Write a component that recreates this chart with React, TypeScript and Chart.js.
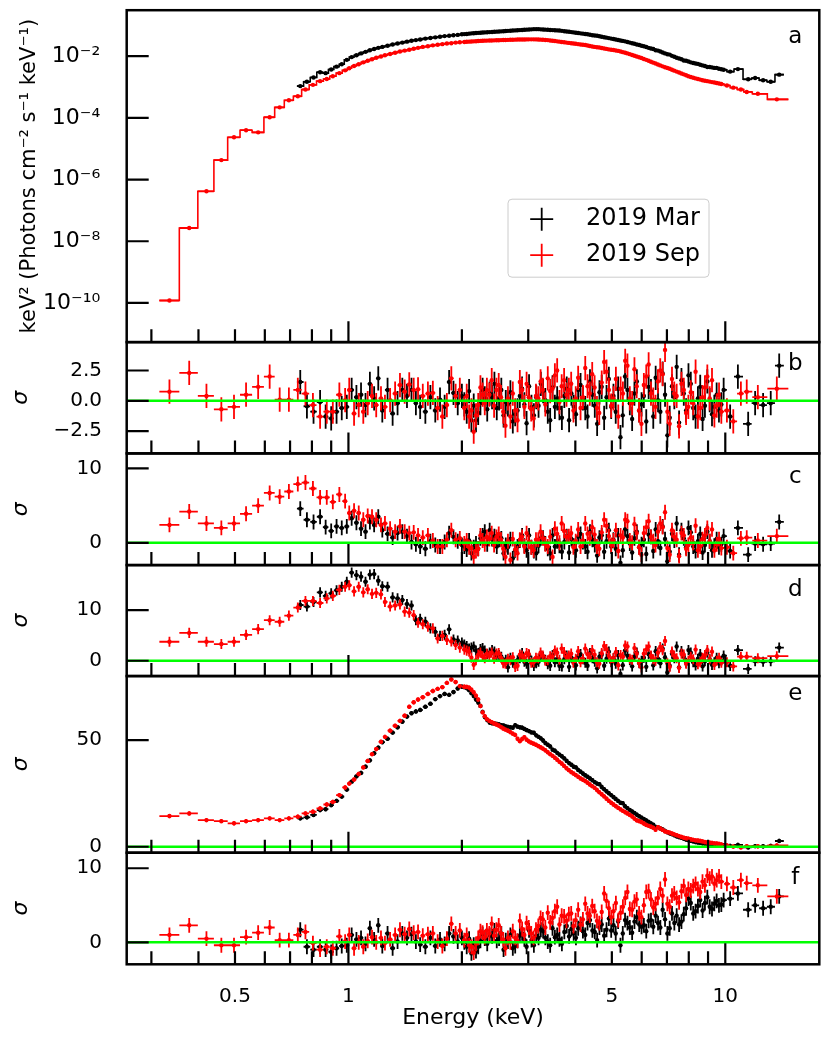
import { useEffect, useRef } from "react";
import { Chart, registerables } from "chart.js";

Chart.register(...registerables);

const FONT = "'DejaVu Sans', sans-serif";
Chart.defaults.font.family = FONT;
Chart.defaults.color = "#000";

// ---- channel energies (keV) ----
const marEnergy = [
  0.745, 0.776, 0.808, 0.841, 0.87, 0.9, 0.93, 0.96, 0.99, 1.02,
  1.05, 1.08, 1.11, 1.14, 1.17, 1.2, 1.23, 1.27, 1.31, 1.35,
  1.39, 1.43, 1.47, 1.51, 1.55, 1.6, 1.65, 1.7, 1.75, 1.8,
  1.85, 1.9, 1.95,
  2.0, 2.03, 2.06, 2.09, 2.12, 2.15, 2.18, 2.21, 2.24, 2.27,
  2.3, 2.335, 2.37, 2.405, 2.44, 2.475, 2.51, 2.545, 2.58, 2.615,
  2.65, 2.69, 2.73, 2.77, 2.81, 2.85, 2.89, 2.93, 2.97, 3.015,
  3.06, 3.105, 3.15, 3.195, 3.24, 3.285, 3.33, 3.38, 3.43, 3.48,
  3.53, 3.58, 3.63, 3.685, 3.74, 3.795, 3.85, 3.905, 3.96, 4.015,
  4.07, 4.13, 4.19, 4.25, 4.31, 4.375, 4.44, 4.505, 4.57, 4.635,
  4.7, 4.77, 4.84, 4.91, 4.98, 5.05, 5.12, 5.195, 5.27, 5.345,
  5.42, 5.5, 5.58, 5.66, 5.74, 5.825, 5.91, 5.995, 6.08, 6.17,
  6.26, 6.35, 6.44, 6.535, 6.63, 6.725, 6.82, 6.92, 7.02, 7.12,
  7.22, 7.325, 7.43, 7.54, 7.65, 7.76, 7.87, 7.985, 8.1, 8.22,
  8.34, 8.46, 8.58, 8.705, 8.83, 8.96, 9.09, 9.22, 9.35, 9.485,
  9.62, 9.76, 9.9,
  10.3, 10.8, 11.5, 12.0, 12.6, 13.2, 13.9,
];

const sepEnergy = [
  0.335, 0.378, 0.42, 0.46, 0.497, 0.535, 0.576, 0.618, 0.657, 0.695, 0.734,
  0.769, 0.805, 0.841, 0.876, 0.909, 0.946, 0.98, 1.005, 1.035, 1.065,
  1.095, 1.125, 1.155, 1.185, 1.22, 1.25, 1.29, 1.33, 1.37, 1.41,
  1.45, 1.49, 1.53, 1.575, 1.625, 1.675, 1.725, 1.775, 1.825, 1.875,
  1.925, 1.975,
  2.03, 2.06, 2.09, 2.12, 2.15, 2.18, 2.21, 2.24, 2.27, 2.3,
  2.33, 2.365, 2.4, 2.435, 2.47, 2.505, 2.54, 2.575, 2.61, 2.65,
  2.69, 2.73, 2.77, 2.81, 2.85, 2.89, 2.93, 2.97, 3.01, 3.055,
  3.1, 3.145, 3.19, 3.235, 3.28, 3.33, 3.38, 3.43, 3.48, 3.53,
  3.58, 3.63, 3.68, 3.735, 3.79, 3.845, 3.9, 3.955, 4.01, 4.07,
  4.13, 4.19, 4.25, 4.31, 4.37, 4.435, 4.5, 4.565, 4.63, 4.7,
  4.77, 4.84, 4.91, 4.98, 5.05, 5.125, 5.2, 5.275, 5.35, 5.425,
  5.5, 5.58, 5.66, 5.74, 5.82, 5.905, 5.99, 6.08, 6.17, 6.26,
  6.35, 6.44, 6.53, 6.625, 6.72, 6.82, 6.92, 7.02, 7.12, 7.22,
  7.32, 7.43, 7.54, 7.65, 7.76, 7.87, 7.98, 8.1, 8.22, 8.34,
  8.46, 8.58, 8.7, 8.83, 8.96, 9.09, 9.22, 9.355, 9.49, 9.625, 9.76,
  10.1, 10.5, 11.0, 11.4, 12.2, 13.7,
];

// ---- panel a: log10 of E^2 F(E) ----
const marSpecLog = [
  -2.97, -2.83, -2.69, -2.52, -2.55, -2.43, -2.34, -2.26, -2.12, -2.03,
  -1.97, -1.91, -1.86, -1.81, -1.77, -1.73, -1.7, -1.66, -1.62, -1.59,
  -1.56, -1.53, -1.5, -1.48, -1.46, -1.43, -1.41, -1.39, -1.37, -1.35,
  -1.34, -1.32, -1.31,
  -1.29, -1.285, -1.28, -1.27, -1.26, -1.255, -1.25, -1.245, -1.24, -1.235,
  -1.23, -1.225, -1.22, -1.215, -1.21, -1.205, -1.2, -1.195, -1.19, -1.185,
  -1.18, -1.175, -1.17, -1.165, -1.16, -1.155, -1.15, -1.145, -1.14, -1.135,
  -1.13, -1.125, -1.125, -1.125, -1.13, -1.135, -1.14, -1.145, -1.15, -1.155,
  -1.16, -1.165, -1.17, -1.18, -1.19, -1.2, -1.21, -1.22, -1.23, -1.24,
  -1.25, -1.26, -1.27, -1.28, -1.29, -1.305, -1.32, -1.33, -1.34, -1.355,
  -1.37, -1.385, -1.4, -1.415, -1.43, -1.445, -1.46, -1.475, -1.49, -1.505,
  -1.52, -1.54, -1.56, -1.58, -1.6, -1.62, -1.64, -1.66, -1.68, -1.705,
  -1.73, -1.75, -1.77, -1.81, -1.82, -1.85, -1.88, -1.91, -1.94, -1.95,
  -1.99, -2.02, -2.05, -2.075, -2.1, -2.14, -2.15, -2.175, -2.2, -2.22,
  -2.24, -2.25, -2.28, -2.3, -2.32, -2.35, -2.35, -2.365, -2.38, -2.38,
  -2.41, -2.425, -2.44,
  -2.5, -2.42, -2.75, -2.71, -2.78, -2.83, -2.6,
];

const sepSpecLog = [
  -9.92, -7.57, -6.38, -5.37, -4.63, -4.4, -4.47, -3.98, -3.66, -3.43, -3.3,
  -3.08, -2.93, -2.81, -2.74, -2.65, -2.55, -2.46, -2.39, -2.32, -2.26,
  -2.2, -2.15, -2.1, -2.05, -2.01, -1.97, -1.93, -1.89, -1.85, -1.82,
  -1.79, -1.76, -1.73, -1.7, -1.68, -1.65, -1.63, -1.61, -1.59, -1.58,
  -1.56, -1.55,
  -1.54, -1.535, -1.53, -1.525, -1.52, -1.515, -1.51, -1.505, -1.5, -1.497,
  -1.495, -1.492, -1.49, -1.487, -1.485, -1.482, -1.48, -1.477, -1.475, -1.472,
  -1.47, -1.467, -1.465, -1.462, -1.46, -1.46, -1.46, -1.457, -1.455, -1.455,
  -1.455, -1.457, -1.46, -1.465, -1.47, -1.475, -1.48, -1.49, -1.5, -1.51,
  -1.52, -1.53, -1.54, -1.55, -1.56, -1.57, -1.58, -1.59, -1.6, -1.61,
  -1.62, -1.63, -1.64, -1.655, -1.67, -1.685, -1.7, -1.71, -1.72, -1.735,
  -1.75, -1.765, -1.78, -1.79, -1.8, -1.815, -1.83, -1.85, -1.87, -1.89,
  -1.91, -1.935, -1.96, -1.985, -2.01, -2.035, -2.06, -2.09, -2.12, -2.15,
  -2.18, -2.21, -2.24, -2.27, -2.3, -2.33, -2.36, -2.385, -2.41, -2.44,
  -2.47, -2.5, -2.53, -2.56, -2.59, -2.62, -2.65, -2.675, -2.7, -2.72,
  -2.74, -2.76, -2.78, -2.795, -2.81, -2.825, -2.84, -2.855, -2.87, -2.885, -2.9,
  -2.95, -3.02, -3.08, -3.16, -3.22, -3.4,
];

// ---- residuals (sigma), panels b-f ----
const marResB = [
  1.55, -0.45, -0.9, -0.1, -1.3, -1.45, -0.9, -0.6, -0.5, 0.9,
  0.3, 0.5, -0.35, 1.4, 0.2, 1.85, -0.8, 0.9, -1.05, -0.2,
  0.9, 0.4, 0.9, -0.2, -0.5, -0.9, 0.3, -0.8, 0.1, -0.5,
  1.55, 0.65, -0.2,
  0.4, -0.3, -0.9, 0.8, -1.6, -0.4, -1.6, -1.0, -0.2, 0.9,
  0.2, -0.7, 0.6, 0.3, 1.4, -0.6, 0.2, 0.9, -1.2, -0.1,
  -0.3, 0.7, -1.7, -1.1, -0.8, 0.4, 1.0, -0.3, -1.85, 1.2,
  -0.5, -1.2, 0.3, -0.4, 1.4, 0.8, 0.05, -0.9, -1.6, 1.1,
  -0.5, 0.2, -0.6, -1.4, 0.4, 1.0, -1.6, 0.6, -0.5, -1.1,
  0.9, 1.3, 0.2, -0.6, -1.3, 1.6, 0.5, -0.4, -1.9, 0.7,
  1.15, -1.4, 0.3, 1.8, -0.5, 0.4, -0.9, 1.0, -3.0, -1.2,
  2.0, 0.9, -0.2, -1.5, 0.6, 1.6, -0.8, -0.3, 0.4, -1.7,
  1.15, 0.8, -1.3, 1.9, 0.05, -0.9, 2.25, 0.5, -2.85, -1.4,
  1.2, 0.3, 2.8, -1.8, 1.7, 0.6, -0.8, 2.1, 1.4, -0.6,
  -1.3, 0.2, 1.15, -1.5, -0.4, 1.6, 0.05, -1.1, -0.5, 0.5,
  -0.8, -0.3, 0.9,
  -1.3, 2.0, -1.9, -0.2, -0.35, -0.2, 2.9,
];
const marResC = [
  4.6, 3.1, 2.8, 3.5, 2.1, 1.6, 2.2, 2.0, 2.2, 3.3,
  2.7, 1.9, 1.5, 2.8, 2.4, 3.5, 1.7, 1.2, 0.7, 1.3,
  1.5, 0.9, 0.1, -0.2, -0.5, -0.8, 0.2, -0.3, -0.5, 0.1,
  1.3, 0.8, 0.2,
  -0.3, -0.5, -0.9, 0.3, -1.4, -0.6, -0.1, -0.8, 0.6, 1.0,
  1.5, -0.2, 1.7, 0.5, 0.9, -0.5, 0.4, 0.6, -1.4, -0.3,
  -0.6, 0.5, -2.1, -1.0, -0.5, 0.3, 1.0, -0.4, -1.0, 1.0,
  -0.6, -1.1, -1.4, -0.4, 0.6, 0.7, -0.1, -0.8, -1.4, 1.0,
  -0.5, 0.2, -0.4, -1.2, 0.1, 0.9, -1.3, 0.5, -0.4, -1.0,
  0.8, 1.2, 0.1, -0.5, -1.2, 1.5, 0.4, -0.3, -1.7, 0.7,
  1.0, -1.2, 0.2, 1.7, -0.5, 0.4, -0.8, 1.0, -2.7, -1.0,
  1.8, 0.9, -0.1, -1.3, 0.6, 1.5, -0.6, -0.2, 0.4, -1.5,
  1.1, 0.8, -1.1, 1.8, 0.2, -0.7, 2.2, 0.5, -2.5, -1.2,
  1.2, 0.3, 2.6, -1.6, 1.7, 0.6, -0.6, 2.0, 1.4, -0.5,
  -1.1, 0.2, 1.2, -1.3, -0.3, 1.5, 0.2, -1.0, -0.4, 0.5,
  -0.6, -0.2, 0.9,
  -1.1, 2.0, -1.6, -0.1, -0.2, -0.1, 2.8,
];
const marResD = [
  11.0, 10.7, 11.6, 13.5, 12.8, 13.3, 13.9, 14.6, 15.6, 17.4,
  16.9, 16.6, 15.6, 17.0, 17.1, 15.8, 14.7, 14.6, 12.5, 12.3,
  12.0, 11.2, 10.9, 8.0, 8.3, 7.7, 6.4, 5.7, 4.9, 5.1,
  6.2, 4.2, 4.0,
  3.6, 3.2, 2.9, 2.4, 2.6, 2.8, 2.0, 1.5, 2.3, 2.5,
  2.0, 1.3, 1.6, 2.1, 1.8, 1.0, 1.1, 0.8, -0.3, 0.2,
  -1.3, 0.6, -0.4, -0.7, 0.1, 0.5, 1.5, -0.2, -0.6, 1.1,
  0.0, -1.0, -0.5, -0.2, 1.0, 0.8, 0.2, -0.7, -1.0, 1.1,
  -0.3, 0.3, -1.0, -1.1, 0.3, 1.0, -1.2, 0.6, -0.3, -0.9,
  0.9, 1.3, 0.3, -0.4, -1.0, 1.5, 0.5, -0.2, -1.5, 0.8,
  1.2, -1.0, 0.4, 1.8, -0.3, 0.5, -0.6, 1.1, -2.6, -0.9,
  2.0, 1.0, 0.1, -1.1, 0.8, 1.6, -0.5, 0.0, 0.6, -1.2,
  1.3, 0.9, -0.9, 1.9, 0.4, -0.5, 2.4, 0.7, -2.3, -1.0,
  1.4, 0.5, 2.8, -1.3, 1.9, 0.8, -0.4, 2.1, 1.6, -0.3,
  -0.9, 0.4, 1.3, -1.1, -0.1, 1.6, 0.3, -0.8, -0.3, 0.6,
  -0.5, 0.0, 1.0,
  -1.0, 2.1, -1.6, -0.1, -0.2, -0.1, 2.6,
];
const marResE = [
  13.3, 13.8, 14.9, 17.2, 17.6, 19.5, 21.5, 23.5, 26.8, 30.5,
  33.0, 34.6, 37.5, 40.5, 43.8, 46.4, 49.0, 50.6, 53.5, 56.0,
  58.6, 61.0, 62.6, 63.4, 64.1, 65.6, 67.0, 69.2, 70.6, 71.6,
  71.2, 72.5, 74.2,
  75.0, 74.8, 74.4, 73.4, 72.0, 70.6, 69.0, 67.6, 66.0, 63.2,
  60.8, 59.4, 58.2, 57.9, 57.8, 57.6, 57.3, 57.0, 56.8, 56.4,
  56.2, 56.0, 55.8, 57.0, 56.3, 56.0, 55.8, 55.2, 54.7, 54.2,
  53.6, 53.4, 52.2, 51.5, 50.8, 49.8, 48.6, 47.8, 47.0, 45.5,
  45.0, 44.0, 43.2, 42.4, 41.4, 40.2, 39.2, 38.4, 37.5, 37.2,
  36.0, 35.2, 34.3, 33.5, 32.8, 32.0, 31.2, 30.3, 29.6, 29.3,
  28.0, 27.0, 26.0, 25.1, 24.2, 23.3, 22.4, 21.5, 20.6, 20.4,
  19.0, 18.1, 17.2, 16.5, 15.8, 15.0, 14.3, 13.6, 13.0, 12.3,
  11.6, 10.9, 10.3, 9.3, 9.2, 8.6, 8.1, 7.4, 6.8, 6.3,
  5.9, 5.4, 4.9, 4.5, 4.2, 3.8, 3.4, 3.1, 2.8, 2.5,
  2.2, 2.0, 1.8, 1.6, 1.5, 1.3, 1.2, 1.1, 1.0, 0.9,
  0.8, 0.75, 0.7,
  0.4, 0.9, -0.3, 0.3, 0.2, 0.4, 2.7,
];
const marResF = [
  1.7, -0.6, -1.0, -0.6, -1.0, -1.3, -0.8, -0.5, -0.4, 1.0,
  0.4, 0.6, -0.2, 1.9, 0.4, 2.3, -0.5, 1.2, -0.8, 0.1,
  1.2, 0.6, 1.1, 0.1, -0.3, -0.6, 0.6, -0.5, 0.4, -0.2,
  1.2, 0.8, 0.1,
  0.6, 0.0, -0.6, 0.5, -1.5, -0.3, -1.2, -0.6, 0.2, 1.1,
  0.5, -0.2, 1.0, 0.8, 1.6, 0.2, 0.5, 1.2, -1.0, 0.3,
  0.1, 1.0, -0.8, -0.5, 0.2, 0.9, 1.2, 0.4, -0.6, 1.6,
  0.3, -0.4, 0.9, 0.6, 1.7, 1.5, 0.6, 0.1, -0.4, 1.9,
  0.7, 1.0, 0.4, -0.2, 1.4, 2.2, 0.8, 1.8, 1.2, 0.6,
  1.9, 2.5, 1.5, 1.0, 2.6, 3.0, 1.6, 1.4, 0.3, 2.0,
  2.4, 0.9, 1.7, 3.2, 1.6, 2.3, 1.2, 2.8, -0.4, 1.2,
  3.0, 2.6, 2.0, 1.3, 2.8, 3.4, 2.4, 2.1, 2.3, 1.5,
  2.9, 3.0, 2.1, 3.6, 2.6, 2.0, 4.4, 3.1, 1.2, 1.9,
  3.9, 2.6, 3.6, 2.4, 2.8, 3.8, 4.6, 5.9, 5.3, 3.9,
  4.2, 4.9, 5.7, 4.3, 5.3, 6.1, 4.8, 4.5, 5.2, 5.6,
  5.0, 5.1, 5.7,
  5.9, 6.6, 4.4, 5.0, 4.6, 4.8, 6.2,
];

const sepResB = [
  0.75, 2.3, 0.4, -0.7, -0.5, 0.5, 1.15, 2.0, 0.1, 0.1, 0.9,
  0.6, -0.35, -1.3, -0.9, -0.9, 0.5, 0.05, 0.9, -1.05, -0.35,
  -0.9, -0.2, 0.4, -0.35, 0.2, -0.5, 0.05, 0.6, 1.3, 0.75,
  1.35, 0.9, 0.95, 0.4, 0.6, 0.65, -0.6, -1.3, -0.35, 1.85,
  0.4, 0.9,
  -0.6, 0.4, -1.3, -0.8, -2.55, -1.2, -0.35, 1.1, 0.5, -0.2,
  0.9, 0.5, 1.7, -0.4, 0.9, 1.3, 0.3, -0.9, -2.05, 0.2,
  -1.3, 0.6, -0.8, -1.6, 1.55, 0.9, -0.5, 1.4, 0.3, -0.7,
  -1.45, 0.4, 0.2, 1.6, 0.9, -0.3, 1.85, 0.8, 1.0, 2.1,
  2.5, -0.1, 1.2, 1.7, 0.5, 0.9, 1.4, -0.8, 0.2, 1.9,
  -0.6, 0.3, 2.7, 1.2, 0.6, 2.2, 1.1, -0.6, -1.0, 1.5,
  3.2, 2.4, 0.9, -0.4, 0.2, 1.8, -1.3, 1.0, 0.6, 3.3,
  2.9, 0.2, -0.2, 2.6, 1.2, -0.8, -1.9, 1.3, 2.0, 3.0,
  0.6, 0.1, -0.5, 1.6, 2.5, 2.2, 4.2, -0.9, -1.9, 1.8,
  0.6, 0.4, -2.1, 1.4, 0.9, -1.0, -0.5, 0.7, -0.2, 2.4,
  -1.3, -0.6, 0.3, 1.1, 2.0, 0.2, 1.7, -1.2, -0.4, 0.5, -0.9,
  -0.8, -1.7, 0.6, 0.75, 0.3, 1.0,
];
const sepResC = [
  2.4, 4.2, 2.6, 2.0, 2.6, 3.9, 5.0, 6.7, 6.2, 6.9, 7.9,
  8.1, 7.3, 6.1, 6.1, 5.5, 6.5, 5.6, 4.0, 4.3, 4.0,
  3.1, 3.6, 3.5, 3.1, 2.4, 2.6, 1.9, 1.5, 2.2, 1.5,
  1.3, 1.4, 1.0, 0.7, 1.0, 0.3, -0.5, -0.5, 0.4, 1.7,
  0.4, 0.6,
  -0.1, 0.3, -0.6, -0.7, -1.9, -1.1, -0.8, 1.0, 0.3, -0.2,
  0.8, 0.5, 1.3, -0.3, 0.8, 1.2, 0.4, -0.8, -1.9, 0.2,
  -2.3, 0.5, -0.9, -1.4, 0.4, 0.8, -0.5, 1.3, 0.1, -0.6,
  -1.0, 0.4, 0.4, 1.5, 0.6, -0.2, -0.5, 0.8, -1.9, 1.9,
  1.2, 0.0, 2.6, 1.6, 0.8, 0.9, 1.3, -0.6, 0.2, 1.8,
  -0.5, 0.3, 2.6, 1.2, 0.6, 2.1, 1.1, -0.5, -0.8, 1.4,
  3.1, 2.3, 0.9, -0.3, 0.3, 1.7, -1.1, 1.0, 0.7, 3.1,
  2.9, 0.3, 0.0, 2.5, 1.3, -0.6, -1.6, 1.3, 2.1, 2.9,
  0.8, 0.2, -0.3, 1.5, 2.6, 2.1, 4.1, -0.7, -1.6, 1.7,
  0.8, 0.4, -1.8, 1.3, 1.0, -0.8, -0.3, 0.7, 0.0, 2.3,
  -1.0, -0.5, 0.5, 1.0, 2.0, 0.2, 1.8, -1.0, -0.2, 0.5, -0.7,
  -0.6, -1.4, 0.6, 0.7, 0.3, 0.9,
];
const sepResD = [
  3.75, 5.5, 3.75, 3.3, 3.75, 5.1, 6.25, 8.0, 7.7, 8.9, 10.5,
  11.8, 11.8, 11.4, 12.3, 12.8, 14.0, 14.6, 14.9, 13.7, 14.6,
  13.5, 14.1, 13.2, 13.4, 13.1, 11.6, 10.7, 10.9, 11.1, 9.7,
  9.5, 9.0, 7.5, 7.2, 6.7, 6.4, 4.4, 4.9, 4.1, 3.8,
  3.1, 2.6,
  2.2, 2.0, 1.8, 0.6, -0.8, 0.1, 1.2, 1.6, 0.9, 0.5,
  1.4, 1.0, 1.6, 0.4, 1.4, 1.5, 0.6, -0.5, -0.6, 0.4,
  0.1, 0.7, -1.2, -1.0, 1.2, 1.0, 0.5, 1.5, 1.3, -0.4,
  -0.3, 0.6, 0.5, 1.6, 1.0, 0.0, 0.1, 0.9, 0.8, 2.0,
  1.6, 0.2, 2.4, 1.7, 0.7, 1.0, 1.4, -0.4, 0.4, 1.9,
  -0.3, 0.4, 2.4, 1.3, 0.7, 2.1, 1.2, -0.3, -0.6, 1.5,
  2.9, 2.3, 1.0, -0.1, 0.5, 1.7, -0.9, 1.1, 0.8, 3.0,
  2.8, 0.4, 0.2, 2.5, 1.4, -0.4, -1.3, 1.4, 2.2, 2.8,
  1.0, 0.3, 0.0, 1.6, 2.7, 2.1, 3.9, -0.5, -1.2, 1.8,
  1.0, 0.5, -1.4, 1.4, 1.2, -0.6, 0.0, 0.8, 0.3, 2.2,
  -0.7, -0.3, 0.6, 1.1, 2.1, 0.3, 1.8, -0.8, 0.0, 0.6, -0.4,
  -0.3, -1.1, 0.8, 0.8, 0.5, 0.9,
];
const sepResE = [
  14.4, 15.6, 12.5, 12.0, 11.0, 12.0, 12.5, 13.3, 12.5, 13.3, 14.1,
  15.6, 16.4, 18.0, 19.8, 21.0, 24.2, 27.8, 29.6, 31.5, 34.1,
  37.2, 40.2, 43.4, 45.8, 49.2, 51.5, 54.4, 56.7, 59.0, 61.4,
  65.6, 67.7, 69.0, 70.1, 71.6, 73.0, 74.0, 74.8, 76.8, 78.4,
  77.2, 75.3,
  75.0, 74.9, 74.6, 73.6, 72.4, 70.8, 69.0, 66.0, 63.0, 61.2,
  59.8, 59.0, 58.4, 57.8, 57.3, 56.8, 56.1, 55.4, 54.9, 54.4,
  53.7, 53.0, 52.4, 50.6, 49.5, 50.5, 51.4, 50.2, 49.4, 48.8,
  48.3, 47.8, 47.2, 46.6, 46.0, 45.2, 44.3, 43.4, 42.6, 41.7,
  40.8, 39.8, 39.0, 37.9, 36.8, 35.9, 35.0, 34.3, 33.6, 32.8,
  32.0, 31.4, 30.8, 30.0, 29.2, 28.4, 27.6, 26.6, 25.6, 24.6,
  23.6, 22.5, 21.5, 20.6, 19.8, 19.0, 18.2, 17.5, 16.8, 16.2,
  15.6, 14.9, 14.2, 13.2, 12.4, 12.0, 11.6, 10.9, 10.2, 9.8,
  9.4, 8.9, 8.0, 9.2, 8.6, 7.9, 7.2, 6.9, 6.6, 6.2,
  5.8, 5.4, 5.0, 4.6, 4.2, 4.0, 3.8, 3.5, 3.2, 3.0,
  2.9, 2.7, 2.5, 2.2, 2.0, 1.9, 1.8, 1.6, 1.5, 1.3, 1.1,
  0.6, 0.1, -0.3, 0.3, 0.2, 0.6,
];
const sepResF = [
  1.0, 2.3, 0.5, -0.4, -0.4, 0.7, 1.3, 2.0, 0.3, 0.3, 1.0,
  1.4, -0.1, -1.0, -0.6, -0.8, 0.8, 0.1, 1.0, -0.8, 0.0,
  -0.6, 0.2, 0.7, 0.0, 0.6, -0.1, 0.4, 1.0, 1.7, 1.1,
  1.8, 1.3, 1.4, 0.9, 1.1, 1.2, 0.1, -0.5, 0.5, 2.5,
  1.2, 1.6,
  0.3, 1.0, -0.4, -0.6, -1.4, -0.2, 0.6, 1.5, 1.3, 0.7,
  1.6, 1.2, 2.5, 0.9, 1.7, 2.3, 1.2, 0.4, -0.8, 0.6,
  0.0, 1.5, 0.6, 0.2, 2.9, 1.8, 1.0, 2.6, 2.0, 1.2,
  0.6, 1.7, 2.2, 3.3, 3.1, 2.0, 4.0, 2.7, 3.3, 4.2,
  4.8, 2.4, 3.6, 3.5, 2.9, 3.8, 3.9, 2.2, 3.0, 4.4,
  2.4, 3.1, 5.2, 3.9, 3.6, 4.9, 4.2, 2.9, 2.6, 4.1,
  6.6, 5.6, 4.6, 3.4, 4.2, 5.3, 3.0, 4.0, 4.8, 6.0,
  6.8, 4.5, 4.4, 5.5, 5.8, 3.9, 3.4, 5.0, 6.8, 6.9,
  5.8, 4.7, 5.2, 6.0, 7.2, 6.3, 8.5, 5.2, 4.8, 6.3,
  6.6, 6.0, 5.4, 6.9, 7.6, 6.4, 7.2, 7.0, 7.6, 7.9,
  7.2, 6.8, 8.2, 7.7, 9.0, 8.6, 8.9, 7.9, 8.4, 8.9, 8.2,
  7.9, 7.4, 8.4, 8.0, 7.7, 6.2,
];

// ---- ticks ----
const energyTicks = [0.5, 1, 5, 10];
const energyTickLabels = ["0.5", "1", "5", "10"];
const energyMinorTicks = [0.3, 0.4, 0.5, 0.6, 0.7, 0.8, 0.9, 2, 3, 4, 5, 6, 7, 8, 9];
const energyMajorTicks = [1, 10];

const specTicks = [1e-10, 1e-8, 1e-6, 1e-4, 1e-2];
const specTickLabels = ["10⁻¹⁰", "10⁻⁸", "10⁻⁶", "10⁻⁴", "10⁻²"];
const resTicksB = [-2.5, 0, 2.5];
const resLabelsB = ["−2.5", "0.0", "2.5"];
const resTicksC = [0, 10];
const resTicksD = [0, 10];
const resTicksE = [0, 50];
const resTicksF = [0, 10];

const seriesLabels = ["2019 Mar", "2019 Sep"];
const seriesColors = ["#000000", "#ff0000"];

const energyMin = 0.258;
const energyMax = 17.76;

// channel edges half way (in log) between neighbouring channels
function binEdges(centers: number[], first: number, last: number) {
  return centers.map((c, i) => [
    i === 0 ? first : Math.sqrt(centers[i - 1] * c),
    i === centers.length - 1 ? last : Math.sqrt(c * centers[i + 1]),
  ]);
}
const marBins = binEdges(marEnergy, 0.73, 14.3);
const sepBins = binEdges(sepEnergy, 0.315, 14.7);

type Panel = {
  id: string;
  letter: string;
  log?: boolean;
  min: number;
  max: number;
  height: number;
  ticks: number[];
  labels: string[];
  mar: number[];
  sep: number[];
  letterDy: number;
  title?: string;
};

const panels: Panel[] = [
  {
    id: "ya", letter: "a", log: true, min: 10 ** -11.27, max: 10 ** -0.51, height: 332,
    ticks: specTicks, labels: specTickLabels,
    mar: marSpecLog.map((v) => 10 ** v), sep: sepSpecLog.map((v) => 10 ** v),
    letterDy: 33, title: "keV² (Photons cm⁻² s⁻¹ keV⁻¹)",
  },
  { id: "yb", letter: "b", min: -4.34, max: 4.84, height: 111.3, ticks: resTicksB, labels: resLabelsB, mar: marResB, sep: sepResB, letterDy: 28 },
  { id: "yc", letter: "c", min: -3.0, max: 12.02, height: 111.7, ticks: resTicksC, labels: ["0", "10"], mar: marResC, sep: sepResC, letterDy: 30 },
  { id: "yd", letter: "d", min: -3.02, max: 18.88, height: 111, ticks: resTicksD, labels: ["0", "10"], mar: marResD, sep: sepResD, letterDy: 31 },
  { id: "ye", letter: "e", min: -2.8, max: 80.0, height: 176.7, ticks: resTicksE, labels: ["0", "50"], mar: marResE, sep: sepResE, letterDy: 24 },
  { id: "yf", letter: "f", min: -2.97, max: 12.1, height: 111.6, ticks: resTicksF, labels: ["0", "10"], mar: marResF, sep: sepResF, letterDy: 31 },
];

function pointSet(energies: number[], bins: number[][], values: number[], color: string, yAxisID: string, errY: number, order: number) {
  return {
    type: "scatter",
    yAxisID,
    xAxisID: "x",
    data: energies.map((x, i) => ({ x, y: values[i] })),
    pointRadius: 2.2,
    pointHoverRadius: 2.2,
    pointBorderWidth: 0,
    backgroundColor: color,
    borderColor: color,
    errBins: bins,
    errY,
    order,
  };
}

function stepSet(bins: number[][], values: number[], color: string, yAxisID: string) {
  const data: { x: number; y: number }[] = [];
  bins.forEach(([lo, hi], i) => {
    data.push({ x: lo, y: values[i] });
    data.push({ x: hi, y: values[i] });
  });
  return {
    type: "line", yAxisID, xAxisID: "x", data,
    borderColor: color, borderWidth: 1.6, pointRadius: 0, fill: false, order: 5,
  };
}

function zeroLine(yAxisID: string) {
  return {
    type: "line", yAxisID, xAxisID: "x",
    data: [{ x: energyMin, y: 0 }, { x: energyMax, y: 0 }],
    borderColor: "#00ff00", borderWidth: 2.5, pointRadius: 0, fill: false, order: 0,
  };
}

const errorBars = {
  id: "errorBars",
  beforeDatasetDraw(chart: any, args: any) {
    const ds = chart.data.datasets[args.index];
    if (!ds.errBins) return;
    const { xScale, yScale } = args.meta;
    const { ctx, chartArea } = chart;
    ctx.save();
    ctx.beginPath();
    ctx.rect(chartArea.left, yScale.top, chartArea.right - chartArea.left, yScale.bottom - yScale.top);
    ctx.clip();
    ctx.strokeStyle = ds.borderColor;
    ctx.lineWidth = 1.8;
    ctx.beginPath();
    ds.data.forEach((p: { x: number; y: number }, i: number) => {
      if (p.y === undefined) return;
      const [lo, hi] = ds.errBins[i];
      const py = yScale.getPixelForValue(p.y);
      ctx.moveTo(xScale.getPixelForValue(lo), py);
      ctx.lineTo(xScale.getPixelForValue(hi), py);
      if (ds.errY) {
        const px = xScale.getPixelForValue(p.x);
        ctx.moveTo(px, yScale.getPixelForValue(p.y - ds.errY));
        ctx.lineTo(px, yScale.getPixelForValue(p.y + ds.errY));
      }
    });
    ctx.stroke();
    ctx.restore();
  },
};

const decorations = {
  id: "decorations",
  afterDraw(chart: any) {
    const { ctx, chartArea } = chart;
    const { left, right } = chartArea;
    const x = chart.scales.x;
    ctx.save();
    ctx.strokeStyle = "#000";
    ctx.fillStyle = "#000";
    panels.forEach((p) => {
      const s = chart.scales[p.id];
      ctx.lineWidth = 2.2;
      ctx.beginPath();
      energyMinorTicks.forEach((v) => {
        const px = x.getPixelForValue(v);
        ctx.moveTo(px, s.bottom);
        ctx.lineTo(px, s.bottom - 13);
      });
      energyMajorTicks.forEach((v) => {
        const px = x.getPixelForValue(v);
        ctx.moveTo(px, s.bottom);
        ctx.lineTo(px, s.bottom - 21);
      });
      p.ticks.forEach((v) => {
        const py = s.getPixelForValue(v);
        ctx.moveTo(left, py);
        ctx.lineTo(left + 22, py);
      });
      ctx.stroke();
      ctx.lineWidth = 2.5;
      ctx.strokeRect(left, s.top, right - left, s.bottom - s.top);
      ctx.font = `23px ${FONT}`;
      ctx.textAlign = "center";
      ctx.textBaseline = "alphabetic";
      ctx.fillText(p.letter, right - 24, s.top + p.letterDy);
    });

    // legend inside panel a
    const a = chart.scales.ya;
    const bx = left + 381.3;
    const by = a.top + 189;
    ctx.beginPath();
    ctx.roundRect(bx, by, 201, 78, 4);
    ctx.fillStyle = "rgba(255,255,255,0.8)";
    ctx.fill();
    ctx.strokeStyle = "#cccccc";
    ctx.lineWidth = 1;
    ctx.stroke();
    seriesLabels.forEach((label, i) => {
      const cy = by + 20 + i * 36;
      const cx = bx + 33.7;
      ctx.strokeStyle = seriesColors[i];
      ctx.lineWidth = 1.8;
      ctx.beginPath();
      ctx.moveTo(cx - 11.5, cy);
      ctx.lineTo(cx + 11.5, cy);
      ctx.moveTo(cx, cy - 11.5);
      ctx.lineTo(cx, cy + 11.5);
      ctx.stroke();
      ctx.fillStyle = "#000";
      ctx.font = `24px ${FONT}`;
      ctx.textAlign = "left";
      ctx.textBaseline = "middle";
      ctx.fillText(label, bx + 78, cy);
    });
    ctx.restore();
  },
};

function buildConfig(): any {
  const datasets: any[] = [];
  panels.forEach((p) => {
    const errY = p.log ? 0 : 1;
    datasets.push(pointSet(marEnergy, marBins, p.mar, seriesColors[0], p.id, errY, 3));
    datasets.push(pointSet(sepEnergy, sepBins, p.sep, seriesColors[1], p.id, errY, 2));
    if (p.log) {
      datasets.push(stepSet(marBins, p.mar, seriesColors[0], p.id));
      datasets.push(stepSet(sepBins, p.sep, seriesColors[1], p.id));
    } else {
      datasets.push(zeroLine(p.id));
    }
  });

  const scales: any = {
    x: {
      type: "logarithmic",
      position: "bottom",
      min: energyMin,
      max: energyMax,
      bounds: "data",
      grid: { display: false },
      border: { display: false },
      ticks: {
        autoSkip: false,
        maxRotation: 0,
        padding: 12,
        color: "#000",
        font: { size: 20, family: FONT },
        callback: (_v: number, i: number) => energyTickLabels[i],
      },
      afterBuildTicks: (s: any) => {
        s.ticks = energyTicks.map((value) => ({ value }));
      },
      afterFit: (s: any) => {
        s.height = 67.7;
        s.paddingLeft = 0;
        s.paddingRight = 0;
      },
      title: {
        display: true,
        text: "Energy (keV)",
        color: "#000",
        font: { size: 22, family: FONT },
        padding: { top: 0, bottom: 1 },
      },
    },
  };

  panels.forEach((p, i) => {
    scales[p.id] = {
      type: p.log ? "logarithmic" : "linear",
      position: "left",
      stack: "panels",
      stackWeight: p.height,
      weight: panels.length - i,
      min: p.min,
      max: p.max,
      bounds: "data",
      offset: false,
      grid: { display: false },
      border: { display: false },
      ticks: {
        autoSkip: false,
        padding: p.log ? 18.4 : 16.7,
        color: "#000",
        font: { size: p.log ? 22 : 20, family: FONT },
        callback: (_v: number, idx: number) => p.labels[idx],
      },
      afterBuildTicks: (s: any) => {
        s.ticks = p.ticks.map((value) => ({ value }));
      },
      afterFit: (s: any) => {
        s.width = 118.7;
        s.paddingTop = 0;
        s.paddingBottom = 0;
      },
      title: {
        display: true,
        text: p.title ?? "σ",
        color: "#000",
        font: p.log ? { size: 21, family: FONT } : { size: 22, family: FONT, style: "italic" },
        padding: { top: p.log ? 9.4 : 0, bottom: 0 },
      },
    };
  });

  return {
    type: "scatter",
    data: { datasets },
    options: {
      responsive: false,
      animation: false,
      events: [],
      layout: { padding: { left: 0, right: 3.7, top: 2, bottom: 0 } },
      plugins: { legend: { display: false }, tooltip: { enabled: false } },
      scales,
    },
    plugins: [errorBars, decorations],
  };
}

export default function App() {
  const canvasRef = useRef<HTMLCanvasElement | null>(null);

  useEffect(() => {
    if (!canvasRef.current) return;
    const chart = new Chart(canvasRef.current, buildConfig());
    return () => chart.destroy();
  }, []);

  return (
    <div style={{ width: 815, height: 1024 }}>
      <canvas ref={canvasRef} width={815} height={1024} style={{ display: "block" }} />
    </div>
  );
}
